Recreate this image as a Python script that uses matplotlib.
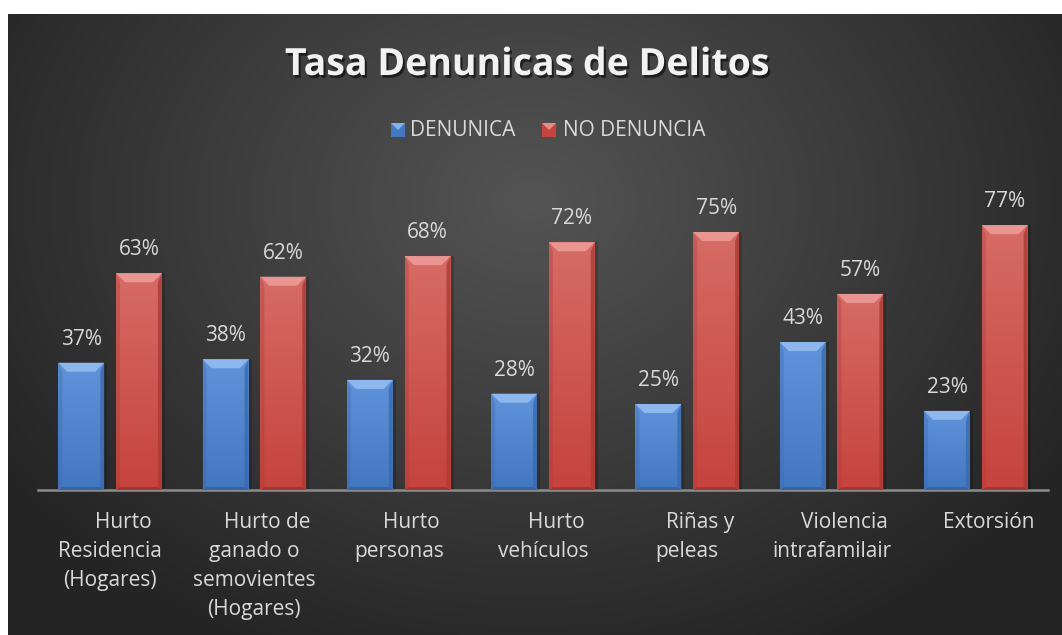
import numpy as np
import matplotlib
matplotlib.use("Agg")
import matplotlib.pyplot as plt
from matplotlib.patches import Rectangle, Polygon
import matplotlib.patheffects as pe
import matplotlib.transforms as mtransforms

# ---------------- data ----------------
categories = [
    "Hurto\nResidencia\n(Hogares)",
    "Hurto de\nganado o\nsemovientes\n(Hogares)",
    "Hurto\npersonas",
    "Hurto\nvehículos",
    "Riñas y\npeleas",
    "Violencia\nintrafamilair",
    "Extorsión",
]
denuncia = [37, 38, 32, 28, 25, 43, 23]
no_denuncia = [63, 62, 68, 72, 75, 57, 77]
series_names = ["DENUNICA", "NO DENUNCIA"]
title = "Tasa Denunicas de Delitos"

FONT = "Open Sans"
W, H = 1062, 635
fig = plt.figure(figsize=(W / 100, H / 100), dpi=100)
fig.patch.set_facecolor("white")

# ---------------- background (radial gradient panel) ----------------
bg = fig.add_axes([0, 0, 1, 1], zorder=-5)
bg.set_axis_off()
yy, xx = np.mgrid[0:H, 0:W]
cx, cy, rx, ry = 530, 200, 640, 500
r = np.sqrt(((xx - cx) / rx) ** 2 + ((yy - cy) / ry) ** 2)
r = np.clip(r, 0, 1)
c0, c1 = 84 / 255, 36 / 255
val = c0 + (c1 - c0) * r
img = np.dstack([val, val, val])
mask = (xx < 8) | (yy < 14)
img[mask] = 1.0
bg.imshow(img, extent=(0, W, H, 0), aspect="auto", interpolation="bilinear")
bg.set_xlim(0, W)
bg.set_ylim(H, 0)

# ---------------- main axes ----------------
ax_left, ax_right, ax_base, ax_top = 38, 1048, 490, 146
ax = fig.add_axes([ax_left / W, (H - ax_base) / H, (ax_right - ax_left) / W,
                   (ax_base - ax_top) / H])
ax.patch.set_alpha(0)
n = len(categories)
ax.set_xlim(-0.5, n - 0.5)
ax.set_ylim(0, 100)
for s in ["top", "right", "left"]:
    ax.spines[s].set_visible(False)
ax.spines["bottom"].set_color("#8c8c8c")
ax.spines["bottom"].set_linewidth(1.8)
ax.set_xticks([])
ax.set_yticks([])

px_x = (n) / (ax_right - ax_left)      # data units per pixel (x)
px_y = 100 / (ax_base - ax_top)        # data units per pixel (y)

x = np.arange(n)
bw = 0.318
off = 0.2

styles = {
    0: dict(top="#5f93da", bot="#4377c2", bevel="#93bcf0", side="#3b69ad", bottom="#33609f"),
    1: dict(top="#d66b66", bot="#c6433e", bevel="#ec9a96", side="#ad3934", bottom="#9e312d"),
}


def hex2rgb(h):
    return np.array(matplotlib.colors.to_rgb(h))


def fancy_bars(xpos, vals, st):
    bars = ax.bar(xpos, vals, width=bw, color=st["bot"], zorder=2, linewidth=0)
    grad = np.linspace(0, 1, 64)[:, None]
    ctop, cbot = hex2rgb(st["top"]), hex2rgb(st["bot"])
    gimg = (ctop[None, None, :] * (1 - grad[:, :, None]) + cbot[None, None, :] * grad[:, :, None])
    for b in bars:
        x0, w, h = b.get_x(), b.get_width(), b.get_height()
        x1 = x0 + w
        im = ax.imshow(gimg, extent=(x0, x1, 0, h), aspect="auto", zorder=3,
                       interpolation="bilinear")
        im.set_clip_path(b)
        # shadow
        ax.add_patch(Rectangle((x1, 0), 3 * px_x, h, color="black", alpha=0.18, zorder=1, lw=0))
        # side bevels
        sx, sy = 4 * px_x, 9 * px_y
        ax.add_patch(Polygon([(x0, 0), (x0 + sx, 3 * px_y), (x0 + sx, h - sy), (x0, h)],
                             closed=True, color=st["side"], alpha=0.35, zorder=4, lw=0))
        ax.add_patch(Polygon([(x1, 0), (x1 - sx, 3 * px_y), (x1 - sx, h - sy), (x1, h)],
                             closed=True, color=st["side"], alpha=0.8, zorder=4, lw=0))
        ax.add_patch(Polygon([(x0, 0), (x1, 0), (x1 - sx, 3 * px_y), (x0 + sx, 3 * px_y)],
                             closed=True, color=st["bottom"], alpha=0.8, zorder=4, lw=0))
        # top bevel
        tx = 9 * px_x
        ax.add_patch(Polygon([(x0, h), (x1, h), (x1 - tx, h - sy), (x0 + tx, h - sy)],
                             closed=True, color=st["bevel"], alpha=0.9, zorder=4, lw=0))
    return bars


bars_a = fancy_bars(x - off, denuncia, styles[0])
bars_b = fancy_bars(x + off, no_denuncia, styles[1])

label_color = "#d9d9d9"
for xs, vals in ((x - off, denuncia), (x + off, no_denuncia)):
    for xi, v in zip(xs, vals):
        ax.annotate(f"{v}%", (xi, v), xytext=(0, 18 * 0.72), textcoords="offset points",
                    ha="center", va="baseline", fontsize=15, color=label_color,
                    family=FONT, zorder=6)

# category labels (first line shifted right like the original)
for i, cat in enumerate(categories):
    lines = cat.split("\n")
    for k, line in enumerate(lines):
        dx = 13 if k == 0 else 0
        dy = -(38 + 29 * k)
        ax.annotate(line, (i, 0), xycoords=("data", "axes fraction"),
                    xytext=(dx * 0.72, dy * 0.72), textcoords="offset points",
                    ha="center", va="baseline", fontsize=15, color=label_color,
                    family=FONT, annotation_clip=False)

# ---------------- title ----------------
pxT = mtransforms.Affine2D().scale(1 / W, -1 / H).translate(0, 1) + fig.transFigure
fig.text(527, 75, title, transform=pxT, ha="center", va="baseline", fontsize=27,
         fontweight="bold", color="#f2f2f2", family=FONT,
         path_effects=[pe.withSimplePatchShadow(offset=(1.5, -2), shadow_rgbFace="black", alpha=0.55)])

# ---------------- legend ----------------
leg_items = [(391, 410, styles[0]), (542, 563, styles[1])]
for (mx, tx_, st), name in zip(leg_items, series_names):
    m = Rectangle((mx, 123), 14, 13.5, transform=pxT, facecolor=st["bot"], lw=0,
                  zorder=3)
    fig.patches.append(m)
    tri = Polygon([(mx, 123), (mx + 14, 123), (mx + 7, 130)], closed=True,
                  transform=pxT, facecolor=st["bevel"], lw=0, alpha=0.85, zorder=4)
    fig.patches.append(tri)
    fig.text(tx_, 136, name, transform=pxT, ha="left", va="baseline", fontsize=15,
             color=label_color, family=FONT)

fig.savefig("out.png", dpi=100, facecolor="white")
